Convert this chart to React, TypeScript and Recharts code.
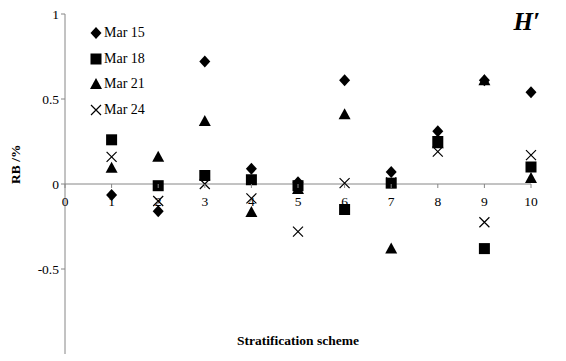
import { ScatterChart, Scatter, XAxis, YAxis, ReferenceLine, Customized } from 'recharts'

// RB (%) of H' per stratification scheme, four survey dates
const schemes = [1, 2, 3, 4, 5, 6, 7, 8, 9, 10]
const mar15 = [-0.065, -0.16, 0.72, 0.09, 0.01, 0.61, 0.07, 0.31, 0.61, 0.54]
const mar18 = [0.26, -0.01, 0.05, 0.025, -0.01, -0.15, 0.005, 0.25, -0.38, 0.1]
const mar21 = [0.095, 0.16, 0.37, -0.165, -0.03, 0.41, -0.38, 0.24, 0.61, 0.035]
const mar24 = [0.16, -0.1, 0.0, -0.085, -0.28, 0.005, 0.01, 0.19, -0.225, 0.17]
const xTicks = [0, 1, 2, 3, 4, 5, 6, 7, 8, 9, 10]
const yTicks = [-1, -0.5, 0, 0.5, 1]

const W = 566
const H = 361
const M = { top: 14, right: 35, bottom: 6, left: 5 }
const ZERO_Y = M.top + (H - M.top - M.bottom - 1) / 2
const AXIS = '#868686'
const FONT = '"Liberation Serif", "Times New Roman", serif'

const toPts = (vals: number[]) => schemes.map((x, i) => ({ x, y: vals[i] }))

const Diamond = ({ cx, cy }: any) => (
  <path d={`M${cx},${cy - 6}L${cx + 5.5},${cy}L${cx},${cy + 6}L${cx - 5.5},${cy}Z`} fill="#000" />
)
const Square = ({ cx, cy }: any) => <rect x={cx - 5.5} y={cy - 5.5} width={11} height={11} fill="#000" />
const Triangle = ({ cx, cy }: any) => (
  <path d={`M${cx},${cy - 6}L${cx + 6},${cy + 5}L${cx - 6},${cy + 5}Z`} fill="#000" />
)
const Cross = ({ cx, cy }: any) => (
  <path d={`M${cx - 5},${cy - 5}L${cx + 5},${cy + 5}M${cx + 5},${cy - 5}L${cx - 5},${cy + 5}`} stroke="#000" strokeWidth={1.2} />
)

const series = [
  { name: 'Mar 15', data: mar15, shape: Diamond },
  { name: 'Mar 18', data: mar18, shape: Square },
  { name: 'Mar 21', data: mar21, shape: Triangle },
  { name: 'Mar 24', data: mar24, shape: Cross },
]

// x ticks sit on the zero line, not at the bottom of the plot
const XTick = ({ x, payload }: any) => (
  <g>
    <line x1={x} x2={x} y1={ZERO_Y} y2={ZERO_Y + 4} stroke={AXIS} />
    <text x={x} y={ZERO_Y + 22} textAnchor="middle" fontSize={13.5} fontFamily={FONT} fill="#000">
      {payload.value}
    </text>
  </g>
)

// legend drawn as an overlay so it does not take space from the plot
const LegendBox = () => (
  <div style={{ position: 'absolute', left: 89, top: 20, fontFamily: FONT, fontSize: 14, color: '#000' }}>
    {series.map((s) => (
      <div key={s.name} style={{ display: 'flex', alignItems: 'center', height: 25.7 }}>
        <svg width={14} height={14} style={{ marginRight: 1 }}>
          <s.shape cx={7} cy={7} />
        </svg>
        <span>{s.name}</span>
      </div>
    ))}
  </div>
)

export default function App() {
  return (
    <div style={{ position: 'absolute', left: 0, top: 0, width: W, height: H, background: '#fff' }}>
      <ScatterChart width={W} height={H} margin={M}>
        <XAxis
          type="number"
          dataKey="x"
          domain={[0, 10]}
          ticks={xTicks}
          axisLine={false}
          tickLine={false}
          tick={<XTick />}
          height={1}
          interval={0}
          label={{ value: 'Stratification scheme', position: 'top', offset: 9, fontFamily: FONT, fontSize: 13.5, fontWeight: 'bold', fill: '#000' }}
        />
        <YAxis
          type="number"
          dataKey="y"
          domain={[-1, 1]}
          ticks={yTicks}
          width={60}
          stroke={AXIS}
          tickSize={4}
          tick={{ fontFamily: FONT, fontSize: 13.5, fill: '#000' }}
          label={{ value: 'RB /%', angle: -90, position: 'insideLeft', offset: 10, fontFamily: FONT, fontSize: 13.5, fontWeight: 'bold', fill: '#000' }}
        />
        <ReferenceLine y={0} stroke={AXIS} />
        {series.map((s) => (
          <Scatter key={s.name} name={s.name} data={toPts(s.data)} shape={s.shape} isAnimationActive={false} />
        ))}
        <Customized
          component={() => (
            <text x={540} y={30} textAnchor="end" fontFamily={FONT} fontSize={25} fontWeight="bold" fontStyle="italic" fill="#000">
              H′
            </text>
          )}
        />
      </ScatterChart>
      <LegendBox />
    </div>
  )
}
